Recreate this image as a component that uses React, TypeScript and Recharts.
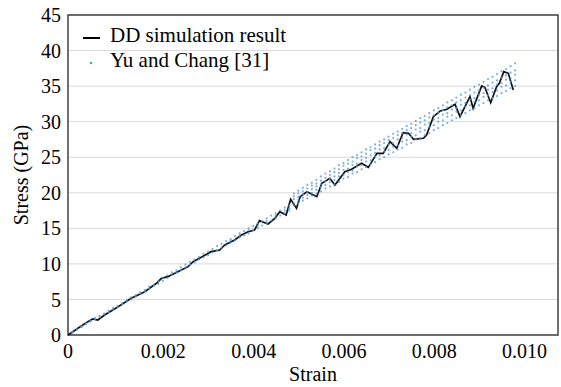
import { CartesianGrid, ComposedChart, Line, ReferenceArea, Scatter, XAxis, YAxis } from "recharts"

const FONT = "'Liberation Serif', 'Times New Roman', serif"

// DD simulation result (black line)
const ddStrain = [
  0, 0.00022, 0.00044, 0.00055, 0.00066, 0.00081, 0.00111, 0.0014, 0.0017, 0.00196,
  0.00207, 0.00221, 0.00251, 0.00266, 0.00277, 0.00295, 0.00317, 0.00336, 0.00347, 0.00369,
  0.00384, 0.00399, 0.00413, 0.00424, 0.00443, 0.00458, 0.00469, 0.00483, 0.00493, 0.00506,
  0.00514, 0.00529, 0.00551, 0.00562, 0.0058, 0.00591, 0.00613, 0.00628, 0.0065, 0.00665,
  0.00684, 0.00698, 0.00713, 0.00728, 0.00742, 0.00754, 0.00765, 0.00787, 0.00794, 0.00809,
  0.00824, 0.00839, 0.00857, 0.00868, 0.0089, 0.00897, 0.00916, 0.00923, 0.00936, 0.00949,
  0.00955, 0.00965, 0.00975, 0.00986,
]
const ddStress = [
  0, 0.94, 1.88, 2.25, 2.11, 2.81, 3.98, 5.16, 6.09, 7.27,
  7.97, 8.2, 9.14, 9.61, 10.31, 10.92, 11.72, 11.95, 12.66, 13.36,
  14.06, 14.53, 14.77, 16.08, 15.61, 16.41, 17.34, 16.88, 19.08, 17.81,
  19.45, 20.15, 19.45, 21.33, 22.03, 21.09, 22.97, 23.3, 24.14, 23.58,
  25.55, 25.55, 27.19, 26.25, 28.45, 28.36, 27.52, 27.66, 28.13, 30.7,
  31.5, 31.74, 32.44, 30.7, 33.51, 31.88, 35.02, 34.83, 32.67, 34.92,
  35.4, 37.03, 36.8, 34.45,
]

// Yu and Chang [31] (blue dots), one column of readings per strain
const yuStrain = [
  0.0001, 0.0002, 0.0003, 0.0004, 0.0005, 0.0006, 0.0007, 0.0008, 0.0009, 0.001,
  0.0011, 0.0012, 0.0013, 0.0014, 0.0015, 0.0016, 0.0017, 0.0018, 0.0019, 0.002,
  0.0021, 0.0022, 0.0023, 0.0024, 0.0025, 0.0026, 0.0027, 0.0028, 0.0029, 0.003,
  0.0031, 0.0032, 0.0033, 0.0034, 0.0035, 0.0036, 0.0037, 0.0038, 0.0039, 0.004,
  0.0041, 0.0042, 0.0043, 0.0044, 0.0045, 0.0046, 0.0047, 0.0048, 0.0049, 0.005,
  0.0051, 0.0052, 0.0053, 0.0054, 0.0055, 0.0056, 0.0057, 0.0058, 0.0059, 0.006,
  0.0061, 0.0062, 0.0063, 0.0064, 0.0065, 0.0066, 0.0067, 0.0068, 0.0069, 0.007,
  0.0071, 0.0072, 0.0073, 0.0074, 0.0075, 0.0076, 0.0077, 0.0078, 0.0079, 0.008,
  0.0081, 0.0082, 0.0083, 0.0084, 0.0085, 0.0086, 0.0087, 0.0088, 0.0089, 0.009,
  0.0091, 0.0092, 0.0093, 0.0094, 0.0095, 0.0096, 0.0097, 0.0098, 0.0099,
]
const yuStress = [
  [0.4, 0.3], [0.8, 0.7], [1.2, 1.1], [1.5, 1.6], [1.9, 2.0],
  [2.2, 2.4], [2.5, 2.7], [2.9, 3.0], [3.2, 3.4], [3.6, 3.8],
  [3.9, 4.1], [4.3, 4.5], [4.7, 4.9], [5.0, 5.3], [5.4, 5.6],
  [5.8, 6.0], [6.1, 6.3], [6.5, 6.8], [6.9, 7.1], [7.2, 7.6],
  [7.6, 8.0], [8.0, 8.4], [8.4, 8.8], [8.8, 9.1], [9.1, 9.5],
  [9.5, 9.9], [9.9, 10.3], [10.2, 10.6], [10.6, 11.0], [10.9, 11.4],
  [11.2, 11.7], [11.6, 12.1], [11.9, 12.5], [12.3, 12.8], [12.6, 13.2],
  [13.0, 13.5, 13.3], [13.3, 13.9], [13.7, 14.3, 14.0], [14.0, 14.6], [14.3, 15.0, 14.7],
  [14.7, 15.3], [15.0, 15.7, 15.3], [15.4, 16.0], [15.7, 16.4, 16.0], [16.1, 16.8],
  [16.4, 17.1, 16.8], [16.8, 17.5], [17.1, 17.9, 17.5], [17.5, 18.2, 17.8],
  [18.2, 18.6, 19.1, 19.5, 19.9],
  [18.5, 19.0, 19.4, 19.9, 20.3],
  [18.9, 19.3, 19.8, 20.2, 20.7],
  [19.2, 19.7, 20.1, 20.6, 21.1],
  [19.6, 20.0, 20.5, 21.0, 21.4],
  [19.9, 20.4, 20.9, 21.3, 21.8],
  [20.2, 20.8, 21.2, 21.7, 22.3],
  [20.6, 21.1, 21.6, 22.1, 22.7],
  [20.9, 21.5, 22.0, 22.5, 23.0],
  [21.2, 21.8, 22.3, 22.9, 23.4],
  [21.5, 22.3, 22.8, 23.3, 23.9],
  [22.0, 22.5, 23.2, 23.8, 24.2],
  [22.2, 22.9, 23.4, 24.1, 24.6],
  [22.7, 23.1, 23.9, 24.4, 25.0],
  [22.9, 23.7, 24.1, 24.9, 25.3],
  [23.3, 23.9, 24.6, 25.1, 25.7],
  [23.6, 24.4, 24.9, 25.5, 26.1],
  [24.0, 24.6, 25.3, 26.0, 26.4],
  [24.3, 25.1, 25.6, 26.2, 26.8],
  [24.7, 25.3, 26.1, 26.7, 27.2],
  [25.0, 25.8, 26.3, 27.0, 27.5],
  [25.4, 26.0, 26.8, 27.4, 27.9],
  [25.7, 26.5, 27.0, 27.7, 28.3],
  [26.1, 26.7, 27.5, 28.1, 28.6],
  [26.3, 27.2, 27.7, 28.4, 29.0],
  [26.8, 27.4, 28.2, 28.8, 29.4],
  [27.0, 27.9, 28.4, 29.1, 29.7],
  [27.5, 28.1, 28.9, 29.5, 30.1],
  [27.7, 28.6, 29.1, 29.9, 30.5],
  [28.1, 28.8, 29.6, 30.2, 30.8],
  [28.4, 29.3, 29.8, 30.6, 31.2],
  [28.8, 29.5, 30.3, 30.9, 31.6],
  [29.1, 30.0, 30.5, 31.3, 31.9],
  [29.5, 30.2, 31.0, 31.6, 32.3],
  [29.8, 30.7, 31.2, 32.0, 32.7],
  [30.2, 30.9, 31.7, 32.3, 33.0],
  [30.5, 31.4, 31.9, 32.7, 33.4],
  [30.9, 31.6, 32.4, 33.0, 33.8],
  [31.2, 32.1, 32.6, 33.4, 34.1],
  [31.6, 32.3, 33.1, 33.7, 34.5],
  [31.9, 32.8, 33.3, 34.1, 34.9],
  [32.3, 33.0, 33.8, 34.4, 35.2],
  [32.6, 33.5, 34.0, 34.8, 35.6],
  [33.0, 33.7, 34.5, 35.1, 36.0],
  [33.3, 34.2, 34.7, 35.5, 36.3],
  [33.6, 34.4, 35.2, 35.8, 36.7],
  [34.0, 34.9, 35.4, 36.2, 37.1],
  [34.3, 35.1, 35.9, 36.5, 37.4],
  [34.7, 35.6, 36.1, 36.9, 37.8],
  [35.0, 35.8, 36.6, 37.2, 38.2],
]

const seriesNames = ["DD simulation result", "Yu and Chang [31]"]
const xTicks = [0, 0.002, 0.004, 0.006, 0.008, 0.01]
const yTicks = [0, 5, 10, 15, 20, 25, 30, 35, 40, 45]
const X_MAX = 0.01085
const Y_MAX = 45
const DOT_COLOR = "#5b9bd5"

const ddData = ddStrain.map((strain, i) => ({ strain, stress: ddStress[i] }))
const yuData = yuStrain.flatMap((strain, i) => yuStress[i].map((stress) => ({ strain, stress })))

const XTick = ({ x, y, payload }: any) => {
  const v = payload.value as number
  return (
    <text x={v === 0 ? x : x + 5} y={y} dy="0.71em" textAnchor="middle" fontFamily={FONT} fontSize={20} fill="#000">
      {v === 0 ? "0" : v.toFixed(3)}
    </text>
  )
}

// legend drawn over the plot, top-left inside the frame
function ChartLegend() {
  return (
    <div
      style={{
        position: "absolute",
        left: 83,
        top: 23,
        fontFamily: FONT,
        fontSize: 21,
        lineHeight: "25px",
        color: "#000",
      }}
    >
      {seriesNames.map((name, i) => (
        <div key={name} style={{ display: "flex", height: 25 }}>
          <svg width={27} height={25}>
            {i === 0 ? (
              <line x1={0} x2={17} y1={15} y2={15} stroke="#000" strokeWidth={2} />
            ) : (
              <circle cx={8} cy={15} r={1.3} fill={DOT_COLOR} />
            )}
          </svg>
          <span style={{ whiteSpace: "nowrap" }}>{name}</span>
        </div>
      ))}
    </div>
  )
}

export default function App() {
  return (
    <div style={{ position: "absolute", left: 0, top: 0, width: 561, height: 387, background: "#fff" }}>
      <ComposedChart width={561} height={387} margin={{ top: 15, right: 3, left: 0, bottom: 0 }}>
        <CartesianGrid horizontal vertical={false} stroke="#d9d9d9" strokeWidth={1} />
        <XAxis
          dataKey="strain"
          type="number"
          domain={[0, X_MAX]}
          ticks={xTicks}
          allowDataOverflow
          axisLine={false}
          tickLine={false}
          tickSize={0}
          tickMargin={9}
          height={52}
          tick={<XTick />}
          label={{ value: "Strain", position: "insideBottom", offset: 6, fontFamily: FONT, fontSize: 20, fill: "#000" }}
        />
        <YAxis
          dataKey="stress"
          type="number"
          domain={[0, Y_MAX]}
          ticks={yTicks}
          axisLine={false}
          tickLine={false}
          tickSize={0}
          tickMargin={7}
          width={68}
          tick={{ fontFamily: FONT, fontSize: 20, fill: "#000" }}
          label={{
            value: "Stress (GPa)",
            angle: -90,
            position: "insideLeft",
            offset: 21,
            fontFamily: FONT,
            fontSize: 20,
            fill: "#000",
            style: { textAnchor: "middle" },
          }}
        />
        <ReferenceArea x1={0} x2={X_MAX} y1={0} y2={Y_MAX} fill="none" stroke="#404040" strokeWidth={1.5} ifOverflow="visible" />
        <Line
          data={ddData}
          dataKey="stress"
          name={seriesNames[0]}
          type="linear"
          stroke="#111"
          strokeWidth={1.7}
          dot={false}
          isAnimationActive={false}
        />
        <Scatter
          data={yuData}
          name={seriesNames[1]}
          fill={DOT_COLOR}
          shape={(p: any) => <circle cx={p.cx} cy={p.cy} r={1.1} fill={DOT_COLOR} fillOpacity={0.8} />}
          isAnimationActive={false}
        />
      </ComposedChart>
      <ChartLegend />
    </div>
  )
}
